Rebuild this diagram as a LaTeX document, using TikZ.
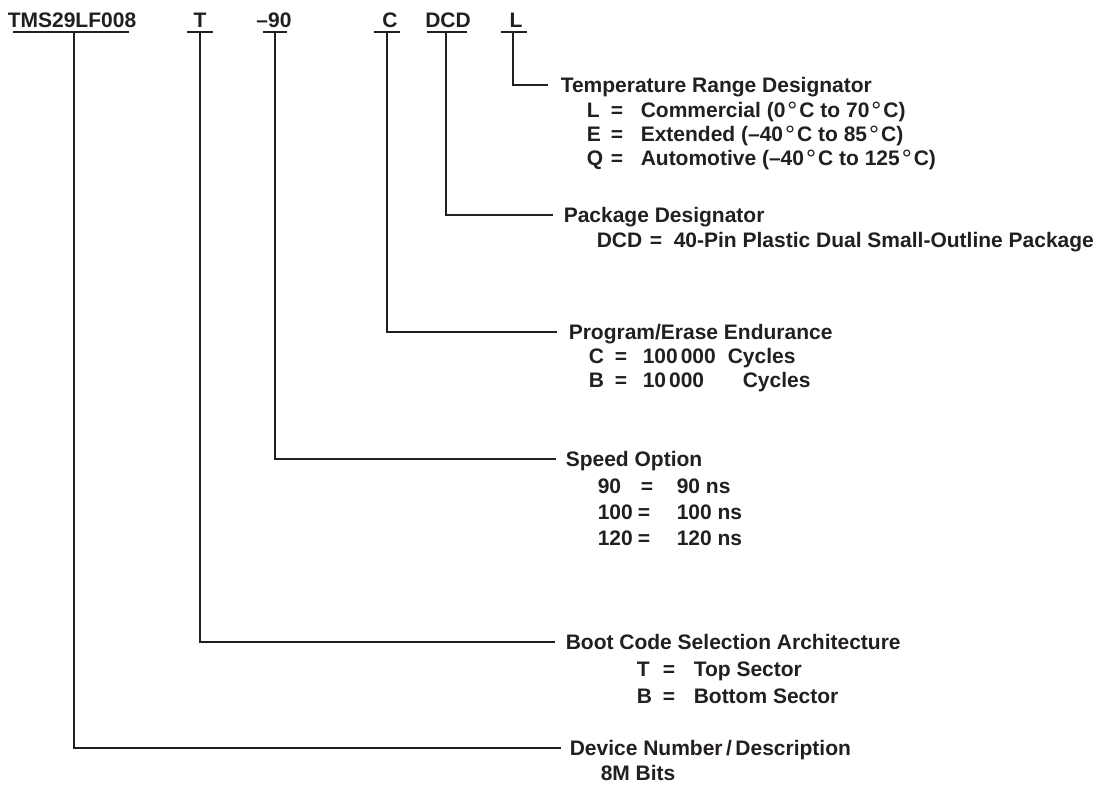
\documentclass[tikz,border=0pt]{standalone}
\usepackage{fontspec}
\setmainfont{Liberation Sans}
\definecolor{ink}{HTML}{231F20}
\newcommand{\degr}{\kern2pt\raisebox{-2pt}{\fontsize{25}{26}\selectfont\mdseries°}\kern2pt}

\begin{document}
\begin{tikzpicture}[x=1pt, y=-1pt, line width=1.5pt, ink,
  font=\fontsize{21}{25}\selectfont\bfseries,
  code/.style={anchor=base, inner sep=0},
  title/.style={anchor=west, inner sep=0, text height=15pt, text depth=0pt},
  item/.style={anchor=west, inner sep=0, text height=15pt, text depth=0pt}]
  \useasboundingbox (0,0) rectangle (1102,785);
  % part number fields
  \node [code] (tms) at (72,27) {TMS29LF008};
  \node [code] (boot) at (200,27) {T};
  \node [code] (speed) at (274,27) {–90};
  \node [code] (endur) at (390,27) {C};
  \node [code] (pkg) at (448,27) {DCD};
  \node [code] (temp) at (516,27) {L};
  \foreach \name/\x/\a/\b in {tms/74/13/129, boot/200/187/213, speed/275/263/287,
      endur/387/374/400, pkg/446/427/467, temp/513/501/527} {
    \coordinate (\name U) at (\x,32);
    \draw (\a,32) -- (\b,32);
  }
  % temperature
  \node [title] (tempT) at (560,85) {Temperature Range Designator};
  \node [item] (tempL) at (586,110) {L};
  \node [item] (tempLeq) at (610,110) {=};
  \node [item] (tempLv) at (640,110) {Commercial (0\degr C to 70\degr C)};
  \node [item] (tempE) at (586,134) {E};
  \node [item] (tempEeq) at (610,134) {=};
  \node [item] (tempEv) at (640,134) {Extended (–40\degr C to 85\degr C)};
  \node [item] (tempQ) at (586,158) {Q};
  \node [item] (tempQeq) at (610,158) {=};
  \node [item] (tempQv) at (640,158) {Automotive (–40\degr C to 125\degr C)};
  % package
  \node [title] (pkgT) at (563,215) {Package Designator};
  \node [item] (pkgD) at (596,240) {DCD};
  \node [item] (pkgDeq) at (649,240) {=};
  \node [item] (pkgDv) at (673,240) {40-Pin Plastic Dual Small-Outline Package};
  % endurance
  \node [title] (endurT) at (568,332) {Program/Erase Endurance};
  \node [item] (endurC) at (588,356) {C};
  \node [item] (endurCeq) at (614,356) {=};
  \node [item] (endurCv) at (642,356) {100\kern3pt000};
  \node [item] (endurCc) at (727,356) {Cycles};
  \node [item] (endurB) at (588,380) {B};
  \node [item] (endurBeq) at (614,380) {=};
  \node [item] (endurBv) at (642,380) {10\kern3pt000};
  \node [item] (endurBc) at (742,380) {Cycles};
  % speed
  \node [title] (speedT) at (565,459) {Speed Option};
  \node [item] (speedA) at (597,486) {90};
  \node [item] (speedAeq) at (640,486) {=};
  \node [item] (speedAv) at (676,486) {90 ns};
  \node [item] (speedB) at (597,512) {100};
  \node [item] (speedBeq) at (637,512) {=};
  \node [item] (speedBv) at (676,512) {100 ns};
  \node [item] (speedC) at (597,538) {120};
  \node [item] (speedCeq) at (637,538) {=};
  \node [item] (speedCv) at (676,538) {120 ns};
  % boot code
  \node [title] (bootT) at (565,642) {Boot Code Selection Architecture};
  \node [item] (bootT1) at (636,669) {T};
  \node [item] (bootT1eq) at (662,669) {=};
  \node [item] (bootT1v) at (693,669) {Top Sector};
  \node [item] (bootB1) at (636,696) {B};
  \node [item] (bootB1eq) at (662,696) {=};
  \node [item] (bootB1v) at (693,696) {Bottom Sector};
  % device
  \node [title] (tmsT) at (569,748) {Device Number\,/\,Description};
  \node [item] (tmsD) at (600,773) {8M Bits};
  % leaders
  \draw (tempU) |- ([xshift=-12pt]tempT.west);
  \draw (pkgU) |- ([xshift=-10pt]pkgT.west);
  \draw (endurU) |- ([xshift=-11pt]endurT.west);
  \draw (speedU) |- ([xshift=-9pt]speedT.west);
  \draw (bootU) |- ([xshift=-10pt]bootT.west);
  \draw (tmsU) |- ([xshift=-8pt]tmsT.west);
\end{tikzpicture}
\end{document}
